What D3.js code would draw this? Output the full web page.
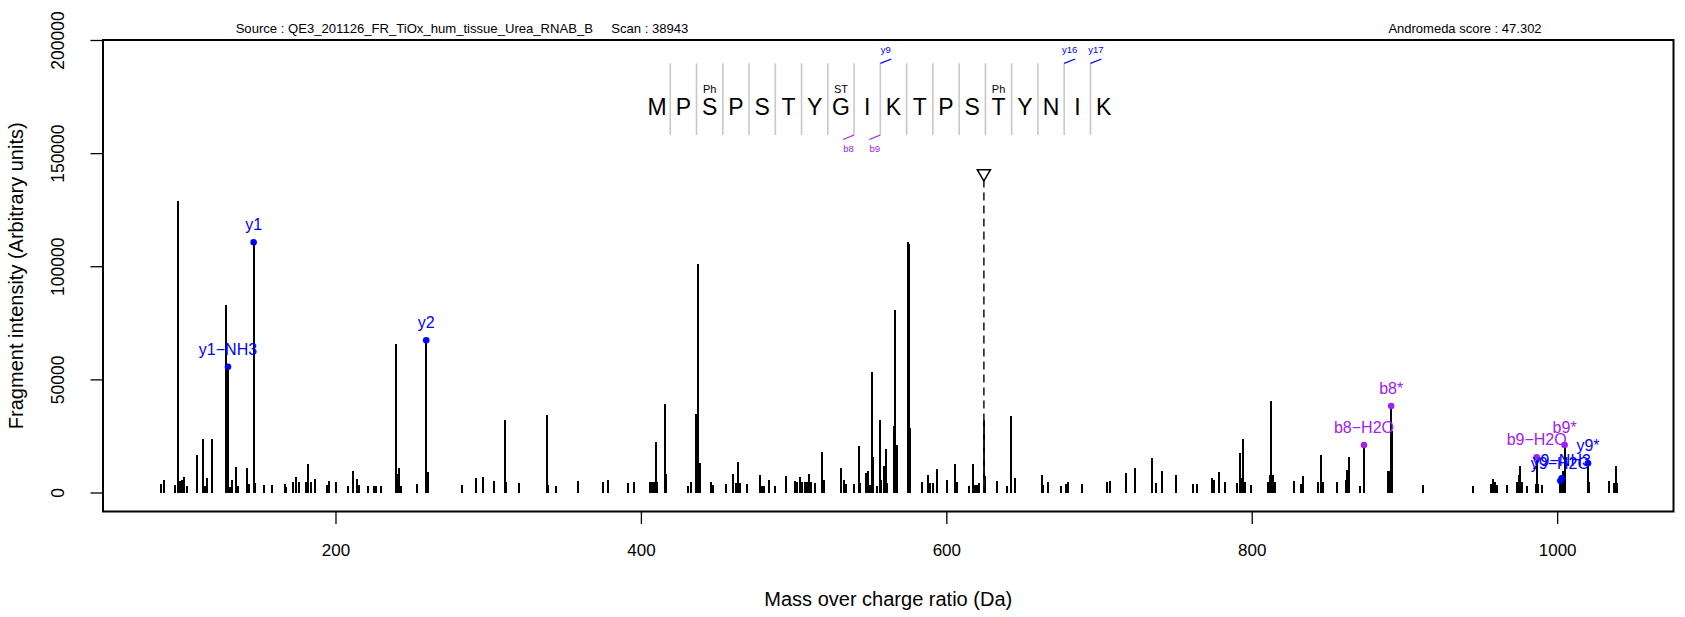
<!DOCTYPE html>
<html>
<head>
<meta charset="utf-8">
<script src="https://cdn.jsdelivr.net/npm/d3@7"></script>
<style>
  html, body { margin: 0; padding: 0; background: #fff; }
  svg { display: block; font-family: "Liberation Sans", Arial, Helvetica, sans-serif; }
</style>
</head>
<body>
<svg id="chart" width="1685" height="617"></svg>
<script>
// ---------------- DATA ----------------
const headerSource = "Source : QE3_201126_FR_TiOx_hum_tissue_Urea_RNAB_B     Scan : 38943";
const headerScore = "Andromeda score : 47.302";
const xTitle = "Mass over charge ratio (Da)";
const yTitle = "Fragment intensity (Arbitrary units)";
const xTicks = [200, 400, 600, 800, 1000];
const yTicks = [0, 50000, 100000, 150000, 200000];

// unannotated peaks (m/z, intensity)
const peakMz = [
  85.7, 87.9, 95.0, 97.0, 97.9, 99.2, 100.7, 102.8, 109.2, 113.1, 114.7, 116.0, 119.1,
  128.4, 130.9, 132.2, 135.1, 136.2, 142.1, 143.5, 147.3, 153.0, 158.6, 167.0, 167.9,
  172.1, 174.1, 176.1, 180.7, 182.0, 184.0, 186.5, 194.2, 196.0, 200.2, 207.9, 211.3,
  214.0, 215.1, 221.5, 225.2, 226.5, 230.1, 239.4, 240.3, 241.4, 243.2, 253.3, 260.6,
  282.6, 292.3, 296.3, 303.7, 310.7, 311.6, 320.2, 338.4, 339.3, 344.6, 358.6, 375.4,
  378.3, 391.6,
  395.7, 405.9, 407.2, 408.5, 409.9, 410.8, 415.9, 416.5, 430.7, 432.5, 436.3, 437.6,
  438.7, 445.8, 446.9, 456.0, 460.2, 462.6, 463.5, 464.6, 469.3, 477.7, 479.4, 480.8,
  484.1, 487.9, 495.0, 500.7, 502.5, 504.0, 505.6, 507.2, 508.7, 510.0, 511.5, 513.8,
  518.9, 519.7, 530.9, 532.8, 534.0, 539.3, 542.6, 543.3, 547.7, 548.8, 550.2, 551.3,
  552.2, 554.8, 556.6, 557.4, 559.2, 560.3, 561.4, 565.6, 566.2, 567.4, 574.7, 575.4,
  575.9, 584.0, 588.0, 589.1, 591.5, 593.8, 600.2, 605.9, 606.8, 614.8, 617.7, 618.5,
  619.9, 621.4, 624.6, 625.3, 633.4, 640.0, 642.1, 645.1, 662.4, 663.3, 666.4, 675.3,
  678.2, 679.5, 689.0, 705.2, 707.4, 717.4, 723.3, 734.8, 737.3,
  741.5, 750.4, 761.4, 764.3, 774.3, 775.6, 778.3, 782.5, 790.5, 792.0, 793.3, 794.4,
  795.3, 799.7, 810.8, 811.9, 812.6, 813.7, 815.5, 827.4, 832.5, 833.6, 843.4, 845.4,
  846.5, 855.8, 861.7, 862.6, 863.5, 871.2, 889.5, 890.6, 891.8, 892.1, 911.9, 944.9,
  956.6, 958.2, 959.3, 960.8, 967.1, 973.7, 975.1, 975.9, 977.0, 980.4, 985.9, 987.7,
  989.9, 1003.6, 1021.1, 1034.0, 1037.5, 1038.4, 1039.3
];
const peakIntensity = [
  3800, 5600, 3400, 128800, 5300, 5600, 6900, 2700, 16600, 23500, 2700, 6600, 23500,
  82900, 2500, 5600, 11400, 3000, 11000, 3600, 4100, 3400, 3200, 3600, 2400,
  4800, 6900, 4500, 4500, 12800, 4500, 6000, 3400, 5300, 4800, 2700, 9400,
  6000, 3400, 2800, 2900, 2900, 2900, 65500, 8300, 10700, 2900, 3600, 9000,
  3400, 6600, 6900, 5100, 32000, 4800, 4100, 34300, 3400, 3000, 5100, 4500,
  5700, 4200,
  4500, 4500, 4800, 4500, 22200, 4500, 39000, 8100, 2800, 4800, 34700, 101100,
  13200, 4500, 3400, 3900, 8100, 4100, 13600, 4100, 3900, 7800, 3000, 3000,
  5400, 2700, 7400, 5100, 4800, 6900, 4500, 4800, 4800, 8100, 4500, 4100,
  17800, 5400, 10700, 5400, 3600, 3600, 20600, 4100, 8600, 9300, 3400, 53400,
  15900, 3000, 32000, 5600, 11900, 19100, 4100, 29500, 80500, 21100, 110900, 110000,
  28600, 4500, 7800, 4100, 4100, 10400, 5400, 12500, 4500, 3000, 12600, 3400,
  3400, 4100, 32100, 7100, 5100, 3000, 33700, 6300, 7800, 3400, 4500, 3000,
  3600, 4500, 3600, 4800, 5100, 8400, 11000, 15200, 4100,
  9600, 7800, 3600, 3900, 6600, 5600, 9000, 4500, 4100, 17400, 6300, 23500,
  4500, 3400, 4500, 7800, 40500, 7800, 4500, 5100, 3600, 7400, 4500, 16600,
  4500, 4500, 5600, 9900, 15500, 3000, 9300, 9300, 27000, 5600, 3400, 3000,
  3600, 6000, 4800, 3400, 3400, 4500, 7800, 11800, 4500, 3000, 3600, 3600,
  3400, 9600, 4500, 5100, 4100, 11800, 4100
];

// annotated fragment ions
const ionLabel = ["y1\u2212NH3", "y1", "y2", "b8\u2212H2O", "b8*", "b9\u2212H2O", "y9\u2212NH3", "y9\u2212H2O", "b9*", "y9*"];
const ionMz = [129.6, 146.4, 259.4, 873.5, 891.3, 986.6, 1003.0, 1002.1, 1004.9, 1020.2];
const ionIntensity = [55600, 110600, 67300, 21000, 38200, 15600, 6300, 5200, 21000, 12900];
const ionSeries = ["y", "y", "y", "b", "b", "b", "y", "y", "b", "y"];

// precursor
const precursorMz = [624.6];
const precursorIntensity = [141000];

// peptide sequence annotation
const residues = ["M","P","S","P","S","T","Y","G","I","K","T","P","S","T","Y","N","I","K"];
const modPosition = [3, 8, 14];
const modLabel = ["Ph", "ST", "Ph"];
const yMarkPosition = [9, 16, 17];
const yMarkLabel = ["y9", "y16", "y17"];
const bMarkPosition = [8, 9];
const bMarkLabel = ["b8", "b9"];

// ---------------- DRAW ----------------
const svg = d3.select("#chart");
const box = { left: 103, right: 1673.5, top: 40, bottom: 511.5 };
const colors = { y: "#0000FF", b: "#A020F0" };

const x = d3.scaleLinear().domain([47.75, 1076.2]).range([box.left, box.right]);
const y = d3.scaleLinear().domain([0, 200000]).range([492.5, 40]);

// header texts
svg.append("text").attr("x", 462).attr("y", 32.5).attr("text-anchor", "middle")
  .attr("font-size", 13.1).attr("fill", "#000").style("white-space", "pre").text(headerSource);
svg.append("text").attr("x", 1465).attr("y", 33).attr("text-anchor", "middle")
  .attr("font-size", 13).attr("fill", "#000").text(headerScore);

// peaks
const peaks = d3.zip(peakMz, peakIntensity);
svg.append("g").selectAll("line").data(peaks).join("line")
  .attr("x1", d => x(d[0])).attr("x2", d => x(d[0]))
  .attr("y1", y(0)).attr("y2", d => y(d[1]))
  .attr("stroke", "#000").attr("stroke-width", 2).attr("shape-rendering", "crispEdges");

// precursor dashed line + triangle
const prec = d3.zip(precursorMz, precursorIntensity);
svg.append("g").selectAll("line").data(prec).join("line")
  .attr("x1", d => x(d[0])).attr("x2", d => x(d[0]))
  .attr("y1", d => y(d[1]) + 6).attr("y2", y(0))
  .attr("stroke", "#222").attr("stroke-width", 1.6).attr("stroke-dasharray", "8,5");
svg.append("g").selectAll("path").data(prec).join("path")
  .attr("transform", d => `translate(${x(d[0])},${y(d[1])}) rotate(180)`)
  .attr("d", d3.symbol(d3.symbolTriangle, 75)())
  .attr("fill", "none").attr("stroke", "#000").attr("stroke-width", 1.5);

// annotated ions
const ions = ionLabel.map((l, i) => ({ label: l, mz: ionMz[i], int: ionIntensity[i], s: ionSeries[i] }));
const gi = svg.append("g");
gi.selectAll("line").data(ions).join("line")
  .attr("x1", d => x(d.mz)).attr("x2", d => x(d.mz))
  .attr("y1", y(0)).attr("y2", d => y(d.int))
  .attr("stroke", "#000").attr("stroke-width", 2).attr("shape-rendering", "crispEdges");
gi.selectAll("circle").data(ions).join("circle")
  .attr("cx", d => x(d.mz)).attr("cy", d => y(d.int)).attr("r", 3.3)
  .attr("fill", d => colors[d.s]);
gi.selectAll("text").data(ions).join("text")
  .attr("x", d => x(d.mz)).attr("y", d => y(d.int) - 12)
  .attr("text-anchor", "middle").attr("font-size", 16)
  .attr("fill", d => colors[d.s]).text(d => d.label);

// plot box
svg.append("rect").attr("x", box.left).attr("y", box.top)
  .attr("width", box.right - box.left).attr("height", box.bottom - box.top)
  .attr("fill", "none").attr("stroke", "#000").attr("stroke-width", 2);

// x axis
const gx = svg.append("g").attr("transform", `translate(0,${box.bottom})`)
  .call(d3.axisBottom(x).tickValues(xTicks).tickSize(12.5).tickSizeOuter(0).tickFormat(d3.format("d")));
gx.select(".domain").remove();
gx.selectAll(".tick line").attr("stroke", "#000").attr("stroke-width", 1.3);
gx.selectAll(".tick text").attr("y", 44).attr("dy", 0).attr("font-size", 17)
  .attr("font-family", "Liberation Sans, Arial, sans-serif").attr("fill", "#000");

// y axis
const gy = svg.append("g").attr("transform", `translate(${box.left},0)`)
  .call(d3.axisLeft(y).tickValues(yTicks).tickSize(12.5).tickSizeOuter(0).tickFormat(d3.format("d")));
gy.select(".domain").remove();
gy.selectAll(".tick line").attr("stroke", "#000").attr("stroke-width", 1.3);
gy.selectAll(".tick text").attr("x", 0).attr("y", -39).attr("dy", 0)
  .attr("transform", "rotate(-90)").attr("text-anchor", "middle").attr("font-size", 17.5)
  .attr("font-family", "Liberation Sans, Arial, sans-serif").attr("fill", "#000");

// axis titles
svg.append("text").attr("x", (box.left + box.right) / 2).attr("y", 606)
  .attr("text-anchor", "middle").attr("font-size", 20).attr("fill", "#000").text(xTitle);
svg.append("text").attr("transform", `translate(23,${(box.top + box.bottom) / 2}) rotate(-90)`)
  .attr("text-anchor", "middle").attr("font-size", 20).attr("fill", "#000").text(yTitle);

// sequence annotation
const rx = d3.scalePoint().domain(d3.range(1, residues.length + 1)).range([657.1, 1103.6]);
const step = rx.step();
const sepX = i => rx(i) + step / 2; // separator after residue i
const gs = svg.append("g");
gs.selectAll("line.sep").data(d3.range(1, residues.length)).join("line").attr("class", "sep")
  .attr("x1", d => sepX(d)).attr("x2", d => sepX(d)).attr("y1", 63.3).attr("y2", 135)
  .attr("stroke", "#c8c8c8").attr("stroke-width", 1.6);
gs.selectAll("text.res").data(residues).join("text").attr("class", "res")
  .attr("x", (d, i) => rx(i + 1)).attr("y", 114.5).attr("text-anchor", "middle")
  .attr("font-size", 23).attr("fill", "#000").text(d => d);
gs.selectAll("text.mod").data(modPosition).join("text").attr("class", "mod")
  .attr("x", d => rx(d)).attr("y", 93).attr("text-anchor", "middle")
  .attr("font-size", 11).attr("fill", "#000").text((d, i) => modLabel[i]);
gs.selectAll("line.ym").data(yMarkPosition).join("line").attr("class", "ym")
  .attr("x1", d => sepX(d)).attr("y1", 63.3).attr("x2", d => sepX(d) + 11).attr("y2", 59)
  .attr("stroke", colors.y).attr("stroke-width", 1.3);
gs.selectAll("text.yl").data(yMarkPosition).join("text").attr("class", "yl")
  .attr("x", d => sepX(d) + 5.5).attr("y", 52.5).attr("text-anchor", "middle")
  .attr("font-size", 9.5).attr("fill", colors.y).text((d, i) => yMarkLabel[i]);
gs.selectAll("line.bm").data(bMarkPosition).join("line").attr("class", "bm")
  .attr("x1", d => sepX(d)).attr("y1", 135).attr("x2", d => sepX(d) - 11).attr("y2", 139.5)
  .attr("stroke", colors.b).attr("stroke-width", 1.3);
gs.selectAll("text.bl").data(bMarkPosition).join("text").attr("class", "bl")
  .attr("x", d => sepX(d) - 5.5).attr("y", 151.5).attr("text-anchor", "middle")
  .attr("font-size", 9.5).attr("fill", colors.b).text((d, i) => bMarkLabel[i]);
</script>
</body>
</html>
